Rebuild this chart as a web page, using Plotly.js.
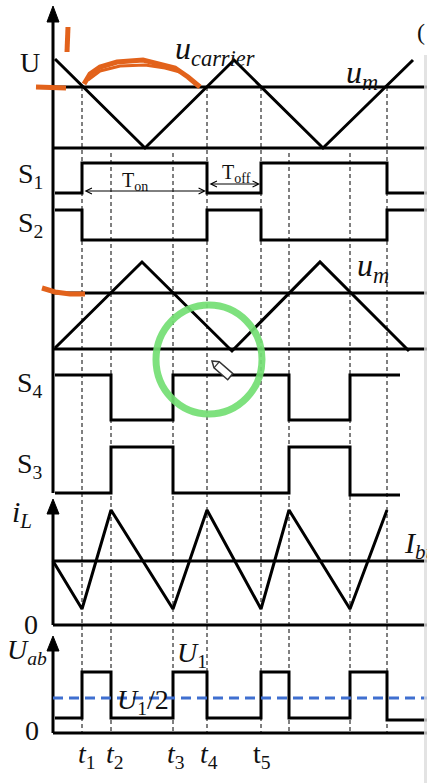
<!DOCTYPE html>
<html><head><meta charset="utf-8">
<script src="https://cdn.plot.ly/plotly-3.0.1.min.js"></script>
<style>html,body{margin:0;padding:0;background:#fff;overflow:hidden}#chart{width:427px;height:783px}</style>
</head><body><div id="chart"></div><script>
// ---- data (x = time position, y = level position) ----
const switchTimes = [82, 111, 173, 207, 261, 289, 350, 387];
const dashStartY = [87, 153, 153, 87, 87, 153, 153, 87];
const dashEndY = 733;

// top panel: carrier triangle vs u_m
const carrierT = [55, 145, 234, 323, 413];
const carrierV = [59, 148, 60, 148, 60];
const umLevel = 87;
const carrierBase = 148;

// S1 / S2
const s12Bounds = [55, 82, 207, 261, 387, 427];
const s1States = [0, 1, 0, 1, 0];
const s2States = [1, 0, 1, 0, 1];
const s1Hi = 163, s1Lo = 193, s2Hi = 210, s2Lo = 240;

// second triangle
const tri2T = [55, 142, 232, 320, 409];
const tri2V = [348, 262, 351, 262, 351];
const um2Level = 293;
const tri2Base = 349;

// S4 / S3
const s34Bounds = [55, 111, 173, 289, 350, 400];
const s4States = [1, 0, 1, 0, 1];
const s3States = [0, 1, 0, 1, 0];
const s4Hi = 375, s4Lo = 420, s3Hi = 447, s3Lo = 493;

// inductor current
const iLT = [53, 82, 111, 173, 207, 261, 289, 350, 387];
const iLV = [561, 609, 510, 609, 510, 609, 510, 609, 510];
const iBuLevel = 561;
const iLZero = 625;

// U_ab
const uabBounds = [55, 82, 111, 173, 207, 261, 289, 350, 387, 427];
const uabStates = [0, 1, 0, 1, 0, 1, 0, 1, 0];
const uabHi = 672, uabLo = 718;
const uabHalf = 698;
const uabZero = 733;

const tickLabels = ['<i>t</i><sub>1</sub>', '<i>t</i><sub>2</sub>', '<i>t</i><sub>3</sub>', '<i>t</i><sub>4</sub>', 't<sub>5</sub>'];
const tickLabelX = [87, 115, 176, 209, 262];

// ---- drawing ----
const K = '#000';
const TXT = '#111';
const serif = 'Liberation Serif, Times New Roman, serif';
const traces = [];
function line(x, y, w, color, dash) {
  traces.push({type:'scatter', mode:'lines', x:x, y:y, line:{color:color||K, width:w||3, dash:dash||'solid'}, hoverinfo:'skip', showlegend:false});
}
function fillPoly(x, y, color) {
  traces.push({type:'scatter', mode:'lines', x:x, y:y, fill:'toself', fillcolor:color, line:{color:color, width:1}, hoverinfo:'skip', showlegend:false});
}
function step(bounds, states, hi, lo) {
  const x = [], y = [];
  for (let i = 0; i < states.length; i++) {
    const v = states[i] ? hi : lo;
    x.push(bounds[i], bounds[i + 1]); y.push(v, v);
  }
  return {x, y};
}

// dashed time markers
switchTimes.forEach((t, i) => line([t, t], [dashStartY[i], dashEndY], 1, K, '4px,3px'));

// axes
line([53, 53], [18, 493], 3);
fillPoly([53, 47, 59, 53], [6, 22, 22, 6], K);
line([53, 53], [512, iLZero], 3);
fillPoly([53, 47, 59, 53], [499, 514, 514, 499], K);
line([53, 427], [iLZero, iLZero], 3);
line([53, 53], [648, uabZero], 3);
fillPoly([53, 47, 59, 53], [636, 651, 651, 636], K);
line([53, 427], [uabZero, uabZero], 3);

// top panel
line([53, 427], [umLevel, umLevel], 3);
line([53, 427], [carrierBase, carrierBase], 3);
line(carrierT, carrierV, 3);

// S1, S2
let w = step(s12Bounds, s1States, s1Hi, s1Lo); line(w.x, w.y, 3);
w = step(s12Bounds, s2States, s2Hi, s2Lo); line(w.x, w.y, 3);

// second triangle panel
line([53, 427], [um2Level, um2Level], 3);
line([53, 427], [tri2Base, tri2Base], 3);
line(tri2T, tri2V, 3);

// S4, S3
w = step(s34Bounds, s4States, s4Hi, s4Lo); line(w.x, w.y, 3);
w = step(s34Bounds, s3States, s3Hi, s3Lo); w.y[w.y.length-1] = s3Lo + 2; w.y[w.y.length-2] = s3Lo + 2; line(w.x, w.y, 3);

// iL panel
line([53, 427], [iBuLevel, iBuLevel], 3);
line(iLT, iLV, 3);

// Uab panel
w = step(uabBounds, uabStates, uabHi, uabLo); w.y[w.y.length-1] = uabLo + 2; w.y[w.y.length-2] = uabLo + 2; line(w.x, w.y, 3);
line([53, 427], [uabHalf, uabHalf], 3, '#3f6fd0', '10px,6px');

// hand-drawn orange marks
const OR = '#e2621b';
line([68, 67], [27, 52], 5, OR);
line([36, 66], [87, 88], 5, OR);
line([84, 90, 100, 117, 143, 160, 175, 188, 200], [84, 74, 67, 62, 60, 64, 68, 77, 87], 5, OR);
line([88, 100, 120, 145, 165, 180], [80, 71, 66, 65, 68, 72], 3, OR);
line([42, 55, 70, 85], [288, 292, 294, 294], 5, OR);

// green circle, pencil cursor, right edge shadow
const shapes = [
  {type:'circle', xref:'x', yref:'y', x0:156, x1:262, y0:305, y1:414, line:{color:'rgba(115,222,115,0.92)', width:7}},
  {type:'rect', xref:'x', yref:'y', x0:424, x1:427, y0:55, y1:783, fillcolor:'rgba(220,220,220,0.8)', line:{width:0}},
  {type:'path', xref:'x', yref:'y', path:'M 212 361 L 219.2 361.8 L 232.9 373.6 L 227.7 379.7 L 214 367.9 Z', fillcolor:'#fff', line:{color:'#333', width:1.5}},
  {type:'path', xref:'x', yref:'y', path:'M 219.2 361.8 L 214 367.9', line:{color:'#333', width:1.2}}
];

const ann = [];
function txt(x, y, text, size, extra) {
  ann.push(Object.assign({x:x, y:y, xref:'x', yref:'y', text:text, showarrow:false, xanchor:'center', yanchor:'middle', font:{family:serif, size:size, color:TXT}}, extra||{}));
}
txt(30, 62, 'U', 28);
txt(215, 50, '<i>u</i><sub><i>carrier</i></sub>', 32);
txt(362, 74, '<i>u</i><sub><i>m</i></sub>', 32);
txt(30, 175, 'S<sub>1</sub>', 28);
txt(30, 224, 'S<sub>2</sub>', 28);
txt(135, 181, 'T<sub>on</sub>', 20);
txt(236, 173, 'T<sub>off</sub>', 20);
txt(373, 267, '<i>u</i><sub><i>m</i></sub>', 32);
txt(30, 384, 'S<sub>4</sub>', 28);
txt(30, 465, 'S<sub>3</sub>', 28);
txt(22, 514, '<i>i</i><sub><i>L</i></sub>', 30);
txt(31, 624, '0', 28);
txt(402, 545, '<i>I</i><sub><i>bu</i></sub>', 30, {xanchor:'left'});
txt(27, 651, '<i>U</i><sub><i>ab</i></sub>', 28);
txt(32, 730, '0', 28);
txt(192, 654, '<i>U</i><sub>1</sub>', 28);
txt(143, 701, '<i>U</i><sub>1</sub>/2', 28);
tickLabels.forEach((s, i) => txt(tickLabelX[i], 755, s, 28));
txt(427, 32, '(', 24, {xanchor:'right'});

// arrows for Ton / Toff
function dbl(x0, x1, y) {
  ann.push({x:x1, y:y, ax:x0, ay:y, xref:'x', yref:'y', axref:'x', ayref:'y', text:'', showarrow:true,
    arrowhead:5, startarrowhead:5, arrowside:'end+start', arrowsize:1.2, startarrowsize:1.2, arrowwidth:1, arrowcolor:K});
}
dbl(83, 206, 191);
dbl(208, 260, 184);

Plotly.newPlot('chart', traces, {
  width:427, height:783, margin:{l:0, r:0, t:0, b:0},
  paper_bgcolor:'#fff', plot_bgcolor:'#fff',
  xaxis:{range:[0, 427], visible:false, fixedrange:true},
  yaxis:{range:[783, 0], visible:false, fixedrange:true},
  shapes:shapes, annotations:ann, showlegend:false
}, {staticPlot:true});
</script></body></html>
